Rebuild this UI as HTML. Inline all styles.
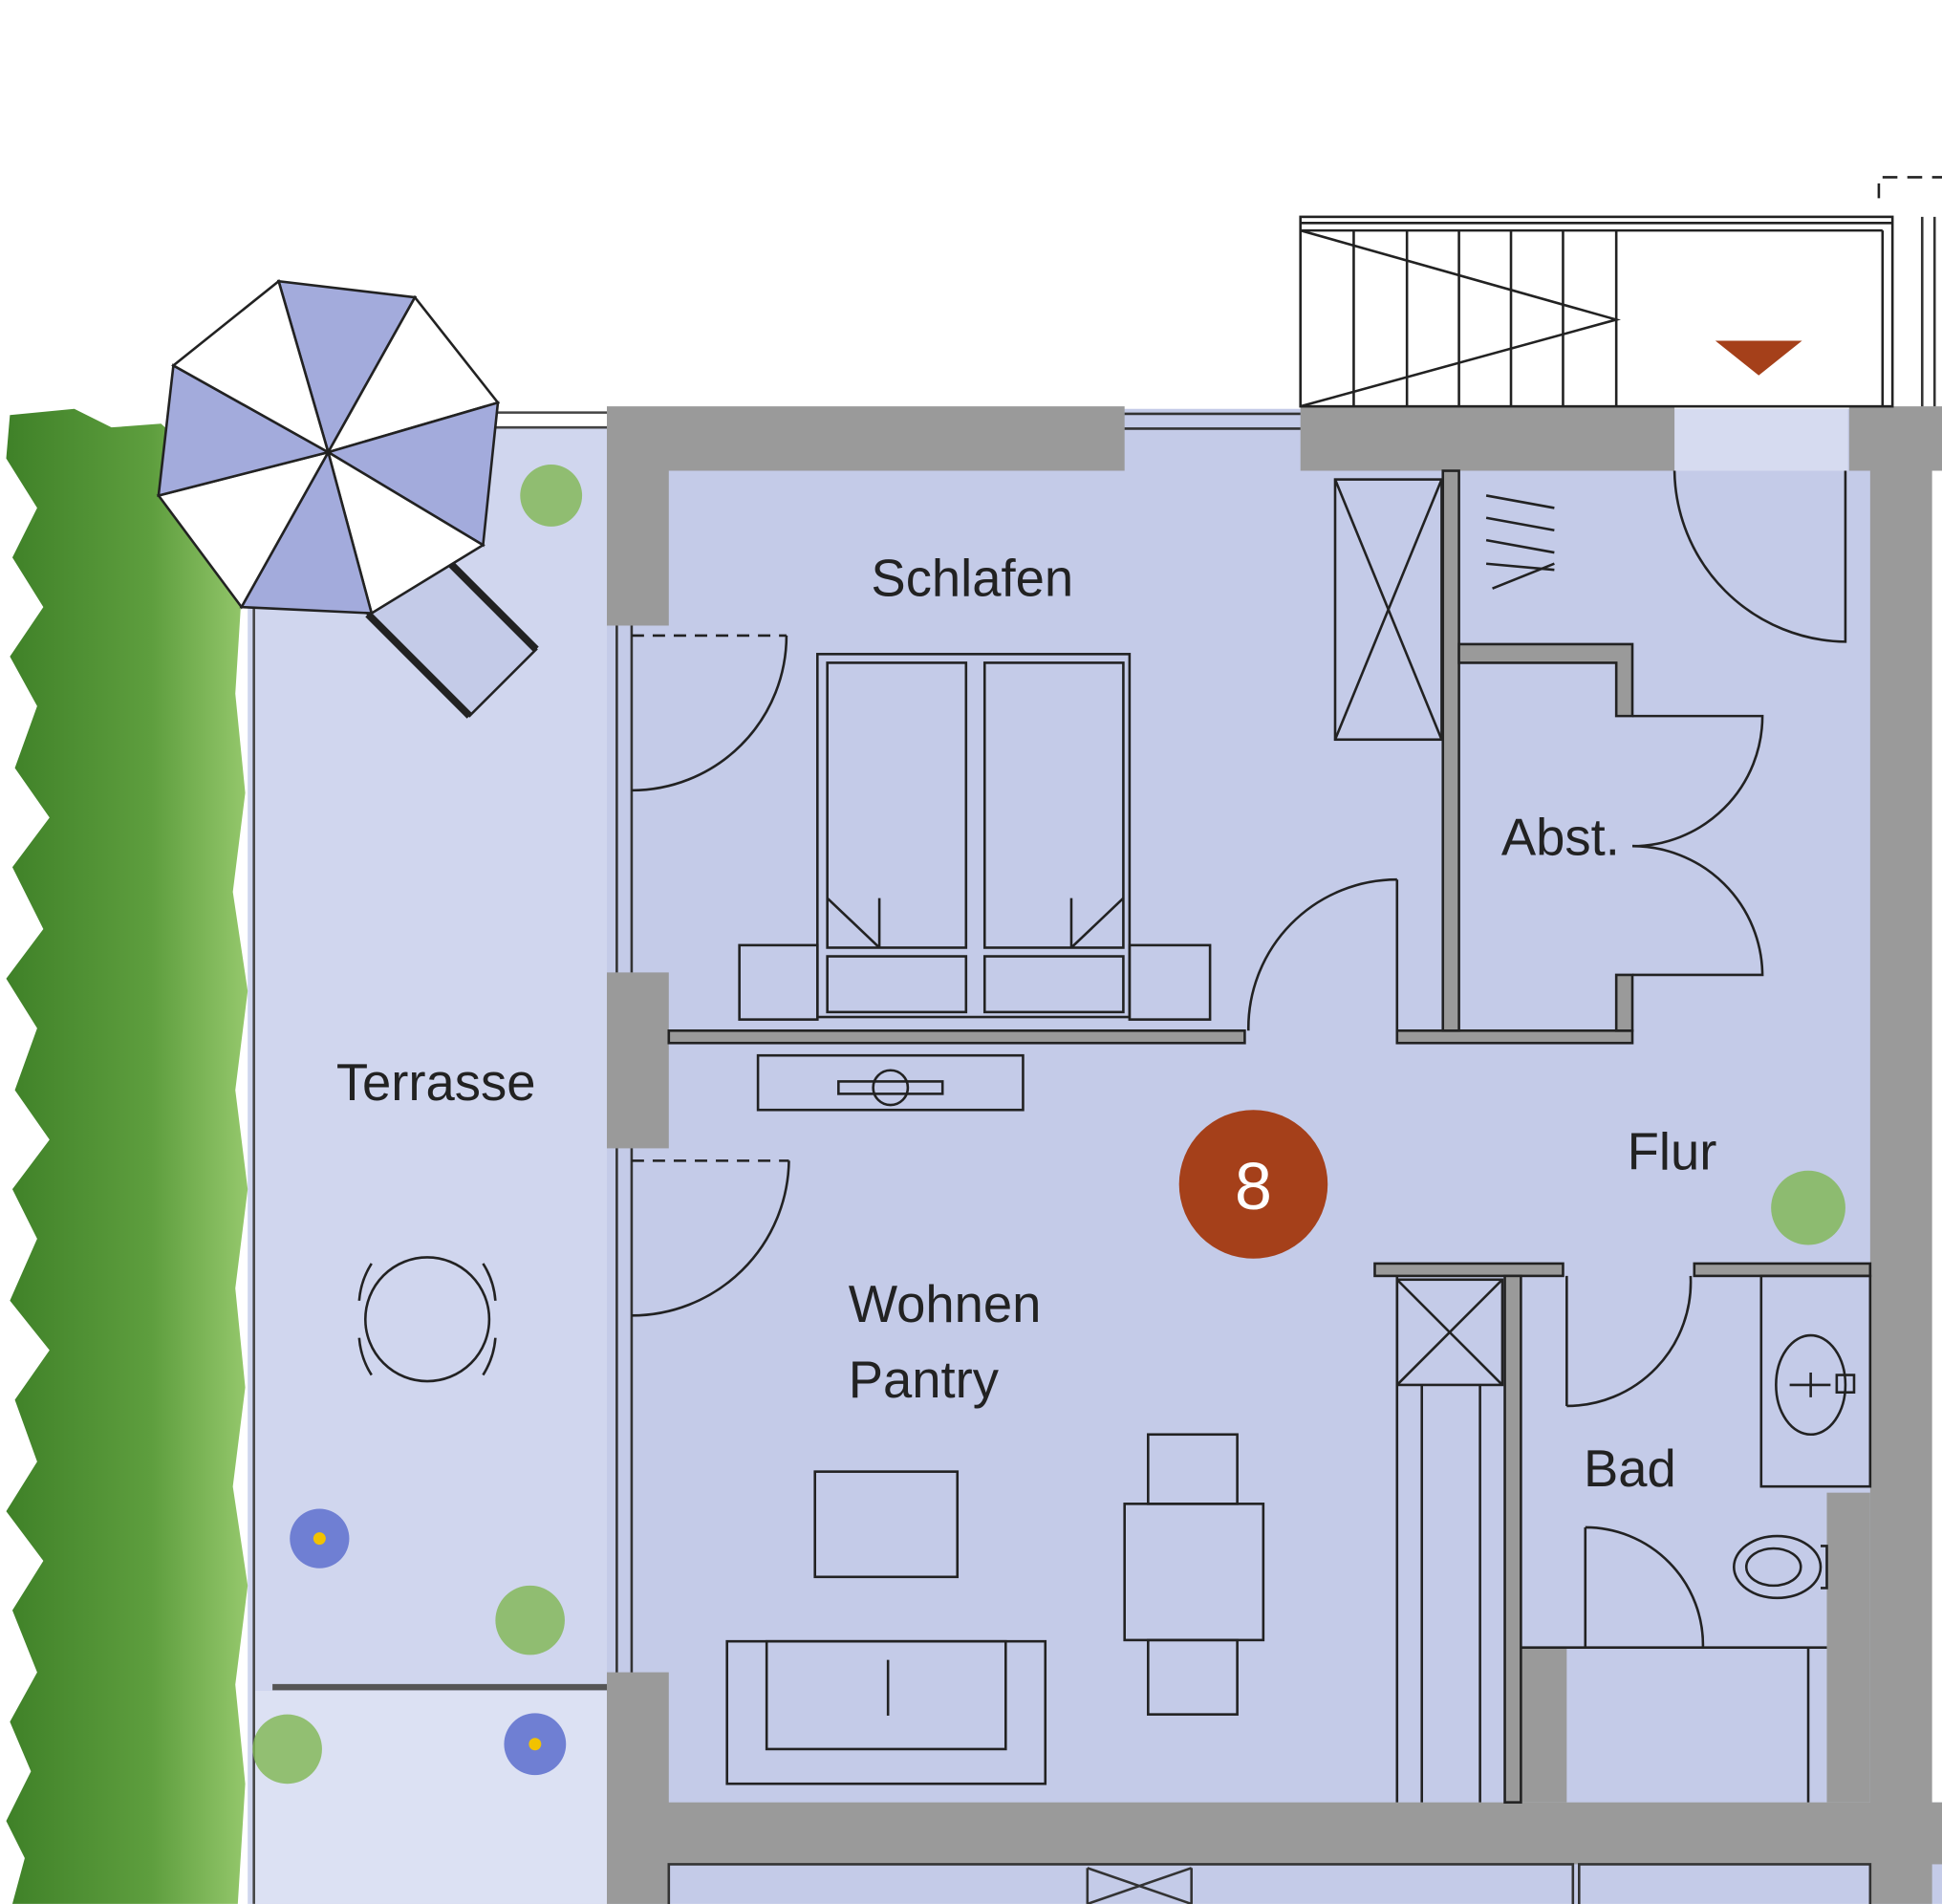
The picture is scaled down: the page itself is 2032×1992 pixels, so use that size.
<!DOCTYPE html>
<html><head><meta charset="utf-8"><style>
html,body{margin:0;padding:0;background:#fff;}
svg{display:block;}
text{font-family:"Liberation Sans",sans-serif;fill:#222;}
</style></head><body>
<svg width="2032" height="1992" viewBox="0 0 1568 1537" xmlns="http://www.w3.org/2000/svg">
<defs>
<linearGradient id="hg" x1="0" x2="1" y1="0" y2="0">
<stop offset="0" stop-color="#3f8128"/><stop offset="0.6" stop-color="#5e9e3e"/><stop offset="1" stop-color="#95c86c"/>
</linearGradient>
</defs>
<rect width="1568" height="1537" fill="#fff"/>
<!-- terrace -->
<rect x="200" y="345" width="290" height="1192" fill="#d0d6ee"/>
<rect x="205" y="1365" width="285" height="172" fill="#dce1f3"/>
<line x1="220" y1="1362" x2="490" y2="1362" stroke="#555" stroke-width="5"/>
<line x1="395" y1="333" x2="490" y2="333" stroke="#444" stroke-width="2"/>
<line x1="395" y1="345" x2="490" y2="345" stroke="#444" stroke-width="2"/>
<line x1="205" y1="490" x2="205" y2="1537" stroke="#444" stroke-width="2"/>
<!-- hedge -->
<path d="M8,335 L60,330 L90,345 L130,342 L150,360 L175,400 L195,480 L190,560 L198,640 L188,720 L200,800 L190,880 L200,960 L190,1040 L198,1120 L188,1200 L200,1280 L190,1360 L198,1440 L192,1537 L10,1537 L20,1500 L5,1470 L25,1430 L8,1390 L30,1350 L10,1300 L35,1260 L5,1220 L30,1180 L12,1130 L40,1090 L8,1050 L30,1000 L10,960 L40,920 L12,880 L30,830 L5,790 L35,750 L10,700 L40,660 L12,620 L30,570 L8,530 L35,490 L10,450 L30,410 L5,370 Z" fill="url(#hg)"/>
<!-- apartment floor -->
<rect x="490" y="330" width="1022" height="1125" fill="#c4cbe8"/>
<rect x="1352" y="330" width="140" height="50" fill="#d6dbf0"/>
<rect x="490" y="1455" width="1078" height="82" fill="#c4cbe8"/>
<!-- walls -->
<g fill="#9a9a9a">
<path d="M490,328 H908 V380 H540 V505 H490 Z"/>
<rect x="490" y="785" width="50" height="142"/>
<rect x="490" y="1350" width="50" height="187"/>
<path d="M1050,328 H1352 V380 H1050 Z"/>
<path d="M1493,328 H1568 V380 H1560 V1537 H1510 V380 H1493 Z"/>
<rect x="490" y="1455" width="1078" height="50"/>
<rect x="1228" y="1330" width="37" height="125"/>
<rect x="1475" y="1205" width="35" height="250"/>
</g>
<g stroke="#333" stroke-width="2" fill="none">
<rect x="540" y="1505" width="730" height="40"/>
<rect x="1275" y="1505" width="235" height="40"/>
<line x1="878" y1="1508" x2="962" y2="1537"/><line x1="962" y1="1508" x2="878" y2="1537"/>
<line x1="878" y1="1508" x2="878" y2="1537"/><line x1="962" y1="1508" x2="962" y2="1537"/>
</g>
<!-- windows -->
<g stroke="#333" stroke-width="2" fill="none">
<line x1="908" y1="334" x2="1050" y2="334"/><line x1="908" y1="346" x2="1050" y2="346"/>
<line x1="498" y1="505" x2="498" y2="785"/><line x1="510" y1="505" x2="510" y2="785"/>
<line x1="498" y1="927" x2="498" y2="1350"/><line x1="510" y1="927" x2="510" y2="1350"/>
<line x1="1552" y1="175" x2="1552" y2="328"/><line x1="1562" y1="175" x2="1562" y2="328"/>
</g>
<!-- stairs -->
<g stroke="#222" stroke-width="2" fill="none">
<rect x="1050" y="175" width="478" height="153"/>
<line x1="1050" y1="180" x2="1528" y2="180"/><line x1="1050" y1="186" x2="1520" y2="186"/>
<line x1="1520" y1="186" x2="1520" y2="328"/>
<line x1="1093" y1="186" x2="1093" y2="328"/><line x1="1136" y1="186" x2="1136" y2="328"/>
<line x1="1178" y1="186" x2="1178" y2="328"/><line x1="1220" y1="186" x2="1220" y2="328"/>
<line x1="1262" y1="186" x2="1262" y2="328"/><line x1="1305" y1="186" x2="1305" y2="328"/>
<polyline points="1050,186 1305,258 1050,328"/>
<polyline points="1517,160 1517,143 1568,143" stroke-dasharray="12,8"/>
</g>
<polygon points="1385,275 1455,275 1420,303" fill="#a5401a"/>
<!-- interior walls -->
<g fill="none" stroke="#222" stroke-width="2">
<rect x="540" y="832" width="465" height="10" fill="#9a9a9a"/>
<rect x="1128" y="832" width="190" height="10" fill="#9a9a9a"/>
<rect x="1165" y="380" width="13" height="452" fill="#9a9a9a"/>
<path d="M1178,520 H1318 V578 H1305 V535 H1178 Z" fill="#9a9a9a"/>
<path d="M1305,787 H1318 V832 H1305 Z" fill="#9a9a9a"/>
<rect x="1110" y="1020" width="152" height="10" fill="#9a9a9a"/>
<rect x="1368" y="1020" width="142" height="10" fill="#9a9a9a"/>
<line x1="1128" y1="710" x2="1128" y2="832"/>
<rect x="1215" y="1030" width="13" height="425" fill="#9a9a9a"/>
<line x1="1128" y1="1030" x2="1128" y2="1455"/>
<line x1="1228" y1="1330" x2="1475" y2="1330"/>
<line x1="1460" y1="1330" x2="1460" y2="1455"/>
<rect x="1422" y="1030" width="88" height="170"/>
<rect x="1078" y="387" width="86" height="210"/>
<line x1="1078" y1="387" x2="1164" y2="597"/><line x1="1164" y1="387" x2="1078" y2="597"/>
<line x1="1200" y1="400" x2="1255" y2="410"/><line x1="1200" y1="418" x2="1255" y2="428"/>
<line x1="1200" y1="436" x2="1255" y2="446"/><line x1="1200" y1="455" x2="1255" y2="460"/>
<line x1="1205" y1="475" x2="1255" y2="455"/>
<rect x="1128" y="1033" width="85" height="85"/>
<line x1="1128" y1="1033" x2="1213" y2="1118"/><line x1="1213" y1="1033" x2="1128" y2="1118"/>
<line x1="1148" y1="1118" x2="1148" y2="1455"/><line x1="1195" y1="1118" x2="1195" y2="1455"/>
<path d="M1352,380 A140,140 0 0 0 1490,518 V380"/>
<path d="M1128,710 A120,120 0 0 0 1008,832"/>
<path d="M1318,683 A105,105 0 0 0 1423,578 H1318"/>
<path d="M1318,683 A105,105 0 0 1 1423,787 H1318"/>
<path d="M1265,1135 A100,100 0 0 0 1365,1030"/>
<line x1="1265" y1="1030" x2="1265" y2="1135"/>
<path d="M1280,1233 V1330 M1280,1233 A95,95 0 0 1 1375,1330"/>
<path d="M510,638 A125,125 0 0 0 635,513" /><line x1="510" y1="513" x2="635" y2="513" stroke-dasharray="10,7"/>
<path d="M510,1062 A127,127 0 0 0 637,937" /><line x1="510" y1="937" x2="637" y2="937" stroke-dasharray="10,7"/>
<rect x="660" y="528" width="252" height="293"/>
<rect x="668" y="535" width="112" height="230"/><rect x="795" y="535" width="112" height="230"/>
<line x1="668" y1="725" x2="710" y2="765"/><line x1="710" y1="725" x2="710" y2="765"/>
<line x1="907" y1="725" x2="865" y2="765"/><line x1="865" y1="725" x2="865" y2="765"/>
<rect x="668" y="772" width="112" height="45"/><rect x="795" y="772" width="112" height="45"/>
<rect x="597" y="763" width="63" height="60"/><rect x="912" y="763" width="65" height="60"/>
<rect x="612" y="852" width="214" height="44"/>
<rect x="677" y="873" width="84" height="10"/><circle cx="719" cy="878" r="14"/>
<rect x="658" y="1188" width="115" height="85"/>
<rect x="587" y="1325" width="257" height="115"/>
<rect x="619" y="1325" width="193" height="87"/>
<line x1="717" y1="1340" x2="717" y2="1385"/>
<rect x="908" y="1214" width="112" height="110"/>
<rect x="927" y="1158" width="72" height="56"/><rect x="927" y="1324" width="72" height="60"/>
<ellipse cx="1462" cy="1118" rx="28" ry="40"/>
<path d="M1445,1118 H1478 M1462,1108 V1128"/>
<rect x="1483" y="1110" width="14" height="14"/>
<ellipse cx="1435" cy="1265" rx="35" ry="25"/><ellipse cx="1432" cy="1265" rx="22" ry="15"/>
<path d="M1470,1248 H1475 V1282 H1470"/>
<circle cx="345" cy="1065" r="50"/>
<path d="M300,1020 A65,65 0 0 0 290,1050"/><path d="M390,1020 A65,65 0 0 1 400,1050"/>
<path d="M300,1110 A65,65 0 0 1 290,1080"/><path d="M390,1110 A65,65 0 0 0 400,1080"/>
</g>
<!-- lounger + umbrella -->
<g stroke="#222" stroke-width="2">
<g transform="translate(365,510) rotate(-45)">
<rect x="-38" y="-58" width="76" height="116" fill="#c4cbe8" stroke-width="2"/>
<line x1="-38" y1="-58" x2="-38" y2="58" stroke-width="6"/>
<line x1="38" y1="-58" x2="38" y2="58" stroke-width="6"/>
</g>
<polygon points="265,365 225,227 335,240" fill="#a3abdc"/>
<polygon points="265,365 335,240 402,325" fill="#fff"/>
<polygon points="265,365 402,325 390,440" fill="#a3abdc"/>
<polygon points="265,365 390,440 300,495" fill="#fff"/>
<polygon points="265,365 300,495 195,490" fill="#a3abdc"/>
<polygon points="265,365 195,490 128,400" fill="#fff"/>
<polygon points="265,365 128,400 140,295" fill="#a3abdc"/>
<polygon points="265,365 140,295 225,227" fill="#fff"/>
</g>
<!-- plants -->
<g fill="#7fb651">
<circle cx="445" cy="400" r="25" opacity=".8"/><circle cx="428" cy="1308" r="28" opacity=".8"/>
<circle cx="232" cy="1412" r="28" opacity=".8"/><circle cx="1460" cy="975" r="30" opacity=".8"/>
</g>
<circle cx="258" cy="1242" r="24" fill="#6f7fd3"/><circle cx="258" cy="1242" r="5" fill="#f2c200"/>
<circle cx="432" cy="1408" r="25" fill="#6f7fd3"/><circle cx="432" cy="1408" r="5" fill="#f2c200"/>
<!-- labels -->
<text x="785" y="481" font-size="42" text-anchor="middle">Schlafen</text>
<text x="1260" y="690" font-size="42" text-anchor="middle">Abst.</text>
<text x="352" y="888" font-size="42" text-anchor="middle">Terrasse</text>
<text x="1350" y="944" font-size="42" text-anchor="middle">Flur</text>
<text x="685" y="1067" font-size="42">Wohnen</text>
<text x="685" y="1128" font-size="42">Pantry</text>
<text x="1316" y="1200" font-size="42" text-anchor="middle">Bad</text>
<circle cx="1012" cy="956" r="60" fill="#a5401a"/>
<text x="1012" y="976" font-size="54" text-anchor="middle" style="fill:#fff">8</text>
</svg>
</body></html>
